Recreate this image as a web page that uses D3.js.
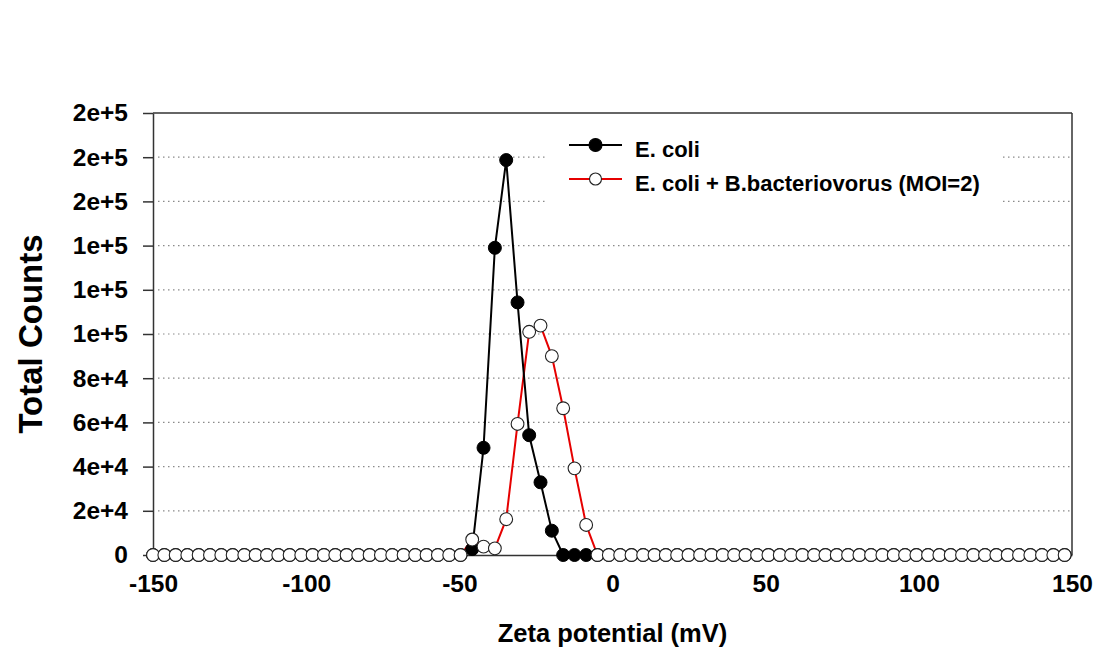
<!DOCTYPE html>
<html>
<head>
<meta charset="utf-8">
<script src="https://cdn.jsdelivr.net/npm/d3@7"></script>
<style>
  body { margin: 0; background: #fff; }
  text { font-family: "Liberation Sans", Arial, sans-serif; font-weight: bold; fill: #000; }
</style>
</head>
<body>
<svg id="zetaChart" width="1113" height="648"></svg>
<script>
// Zeta potential (mV) of each measured point
const zetaValues = [
  -150, -146.3, -142.6, -138.8, -135.1, -131.4, -127.7, -124, -120.2, -116.5,
  -112.8, -109.1, -105.4, -101.6, -97.9, -94.2, -90.5, -86.8, -83, -79.3,
  -75.6, -71.9, -68.2, -64.4, -60.7, -57, -53.3, -49.6, -45.8, -42.1,
  -38.4, -34.7, -31, -27.2, -23.5, -19.8, -16.1, -12.4, -8.6, -4.9,
  -1.2, 2.5, 6.2, 10, 13.7, 17.4, 21.1, 24.8, 28.6, 32.3,
  36, 39.7, 43.4, 47.2, 50.9, 54.6, 58.3, 62, 65.8, 69.5,
  73.2, 76.9, 80.6, 84.4, 88.1, 91.8, 95.5, 99.2, 103, 106.7,
  110.4, 114.1, 117.8, 121.6, 125.3, 129, 132.7, 136.4, 140.2, 143.9,
  147.6
];

// Total counts, E.coli alone
const ecoliCounts = [
  0, 0, 0, 0, 0, 0, 0, 0, 0, 0,
  0, 0, 0, 0, 0, 0, 0, 0, 0, 0,
  0, 0, 0, 0, 0, 0, 0, 0, 2700, 48500,
  139000, 178700, 114300, 54200, 32900, 11000, 0, 0, 0, 0,
  0, 0, 0, 0, 0, 0, 0, 0, 0, 0,
  0, 0, 0, 0, 0, 0, 0, 0, 0, 0,
  0, 0, 0, 0, 0, 0, 0, 0, 0, 0,
  0, 0, 0, 0, 0, 0, 0, 0, 0, 0,
  0
];

// Total counts, E.coli + B.bacteriovorus (MOI=2)
const bdelloCounts = [
  0, 0, 0, 0, 0, 0, 0, 0, 0, 0,
  0, 0, 0, 0, 0, 0, 0, 0, 0, 0,
  0, 0, 0, 0, 0, 0, 0, 0, 7000, 3800,
  3000, 16200, 59300, 101000, 103800, 90000, 66400, 39200, 13600, 0,
  0, 0, 0, 0, 0, 0, 0, 0, 0, 0,
  0, 0, 0, 0, 0, 0, 0, 0, 0, 0,
  0, 0, 0, 0, 0, 0, 0, 0, 0, 0,
  0, 0, 0, 0, 0, 0, 0, 0, 0, 0,
  0
];

const xTicks = [-150, -100, -50, 0, 50, 100, 150];
const yTicks = [0, 20000, 40000, 60000, 80000, 100000, 120000, 140000, 160000, 180000, 200000];
const yTickLabels = ["0", "2e+4", "4e+4", "6e+4", "8e+4", "1e+5", "1e+5", "1e+5", "2e+5", "2e+5", "2e+5"];
const seriesNames = ["E. coli", "E. coli + B.bacteriovorus (MOI=2)"];

const svg = d3.select("#zetaChart");
const margin = {top: 113, right: 41, bottom: 93, left: 153};
const width = +svg.attr("width") - margin.left - margin.right;
const height = +svg.attr("height") - margin.top - margin.bottom;

svg.append("rect").attr("width", 1113).attr("height", 648).attr("fill", "#fff");

const g = svg.append("g").attr("transform", "translate(" + margin.left + "," + margin.top + ")");

const x = d3.scaleLinear().domain([-150, 150]).range([0, width]);
const y = d3.scaleLinear().domain([0, 200000]).range([height, 0]);

// dotted grid lines (not at 0 or at the top frame)
g.append("g")
    .selectAll("line")
    .data(yTicks.slice(1, -1))
    .join("line")
    .attr("x1", 5)
    .attr("x2", width)
    .attr("y1", d => y(d))
    .attr("y2", d => y(d))
    .attr("stroke", "#8a8a8a")
    .attr("stroke-width", 1.2)
    .attr("stroke-dasharray", "1.5,3.5");

// legend background hides the grid behind it
svg.append("rect")
    .attr("x", 548)
    .attr("y", 130)
    .attr("width", 452)
    .attr("height", 85)
    .attr("fill", "#fff");

// y axis
const yAxis = g.append("g")
    .call(d3.axisLeft(y)
        .tickValues(yTicks)
        .tickFormat((d, i) => yTickLabels[i])
        .tickSize(10)
        .tickSizeOuter(0)
        .tickPadding(15));
yAxis.select(".domain").attr("stroke", "#333").attr("stroke-width", 1.5);
yAxis.selectAll(".tick line").attr("stroke", "#333").attr("stroke-width", 1.5);
yAxis.selectAll("text")
    .attr("font-size", 24.5)
    .attr("font-family", "Liberation Sans, Arial, sans-serif")
    .attr("font-weight", "bold")
    .attr("fill", "#000");

// frame: top, right
g.append("line").attr("x1", 0).attr("x2", width).attr("y1", 0).attr("y2", 0)
    .attr("stroke", "#333").attr("stroke-width", 1.5);
g.append("line").attr("x1", width).attr("x2", width).attr("y1", 0).attr("y2", height)
    .attr("stroke", "#333").attr("stroke-width", 1.5);

// x axis
const xAxis = g.append("g")
    .attr("transform", "translate(0," + height + ")")
    .call(d3.axisBottom(x)
        .tickValues(xTicks)
        .tickFormat(d => String(d))
        .tickSize(0)
        .tickSizeOuter(0)
        .tickPadding(20));
xAxis.select(".domain").attr("stroke", "#333").attr("stroke-width", 1.5);
xAxis.selectAll("text")
    .attr("font-size", 24.5)
    .attr("font-family", "Liberation Sans, Arial, sans-serif")
    .attr("font-weight", "bold")
    .attr("fill", "#000");

// axis titles
svg.append("text")
    .attr("x", margin.left + width / 2)
    .attr("y", 642)
    .attr("text-anchor", "middle")
    .attr("font-size", 25.5)
    .text("Zeta potential (mV)");

svg.append("text")
    .attr("transform", "translate(42," + (margin.top + height / 2) + ") rotate(-90)")
    .attr("text-anchor", "middle")
    .attr("font-size", 33)
    .text("Total Counts");

const ecoliData = zetaValues.map((v, i) => ({zeta: v, count: ecoliCounts[i]}));
const bdelloData = zetaValues.map((v, i) => ({zeta: v, count: bdelloCounts[i]}));

const line = d3.line()
    .x(d => x(d.zeta))
    .y(d => y(d.count));

g.append("path")
    .datum(bdelloData)
    .attr("fill", "none")
    .attr("stroke", "#e60000")
    .attr("stroke-width", 2)
    .attr("d", line);

g.append("path")
    .datum(ecoliData)
    .attr("fill", "none")
    .attr("stroke", "#000")
    .attr("stroke-width", 2)
    .attr("d", line);

g.append("g")
    .selectAll("circle")
    .data(ecoliData)
    .join("circle")
    .attr("cx", d => x(d.zeta))
    .attr("cy", d => y(d.count))
    .attr("r", 6.5)
    .attr("fill", "#000")
    .attr("stroke", "#000")
    .attr("stroke-width", 1);

g.append("g")
    .selectAll("circle")
    .data(bdelloData)
    .join("circle")
    .attr("cx", d => x(d.zeta))
    .attr("cy", d => y(d.count))
    .attr("r", 6.4)
    .attr("fill", "#fff")
    .attr("stroke", "#222")
    .attr("stroke-width", 1.1);

// legend
const legend = svg.append("g")
    .selectAll("g")
    .data(seriesNames)
    .join("g")
    .attr("transform", (d, i) => "translate(569," + (145 + i * 34) + ")");

legend.append("line")
    .attr("x1", 0)
    .attr("x2", 53)
    .attr("stroke", (d, i) => i === 0 ? "#000" : "#e60000")
    .attr("stroke-width", 2);

legend.append("circle")
    .attr("cx", 26.5)
    .attr("r", (d, i) => i === 0 ? 6.5 : 6)
    .attr("fill", (d, i) => i === 0 ? "#000" : "#fff")
    .attr("stroke", (d, i) => i === 0 ? "#000" : "#222")
    .attr("stroke-width", 1.1);

legend.append("text")
    .attr("x", 66)
    .attr("y", 12)
    .attr("font-size", 22)
    .text(d => d);
</script>
</body>
</html>
